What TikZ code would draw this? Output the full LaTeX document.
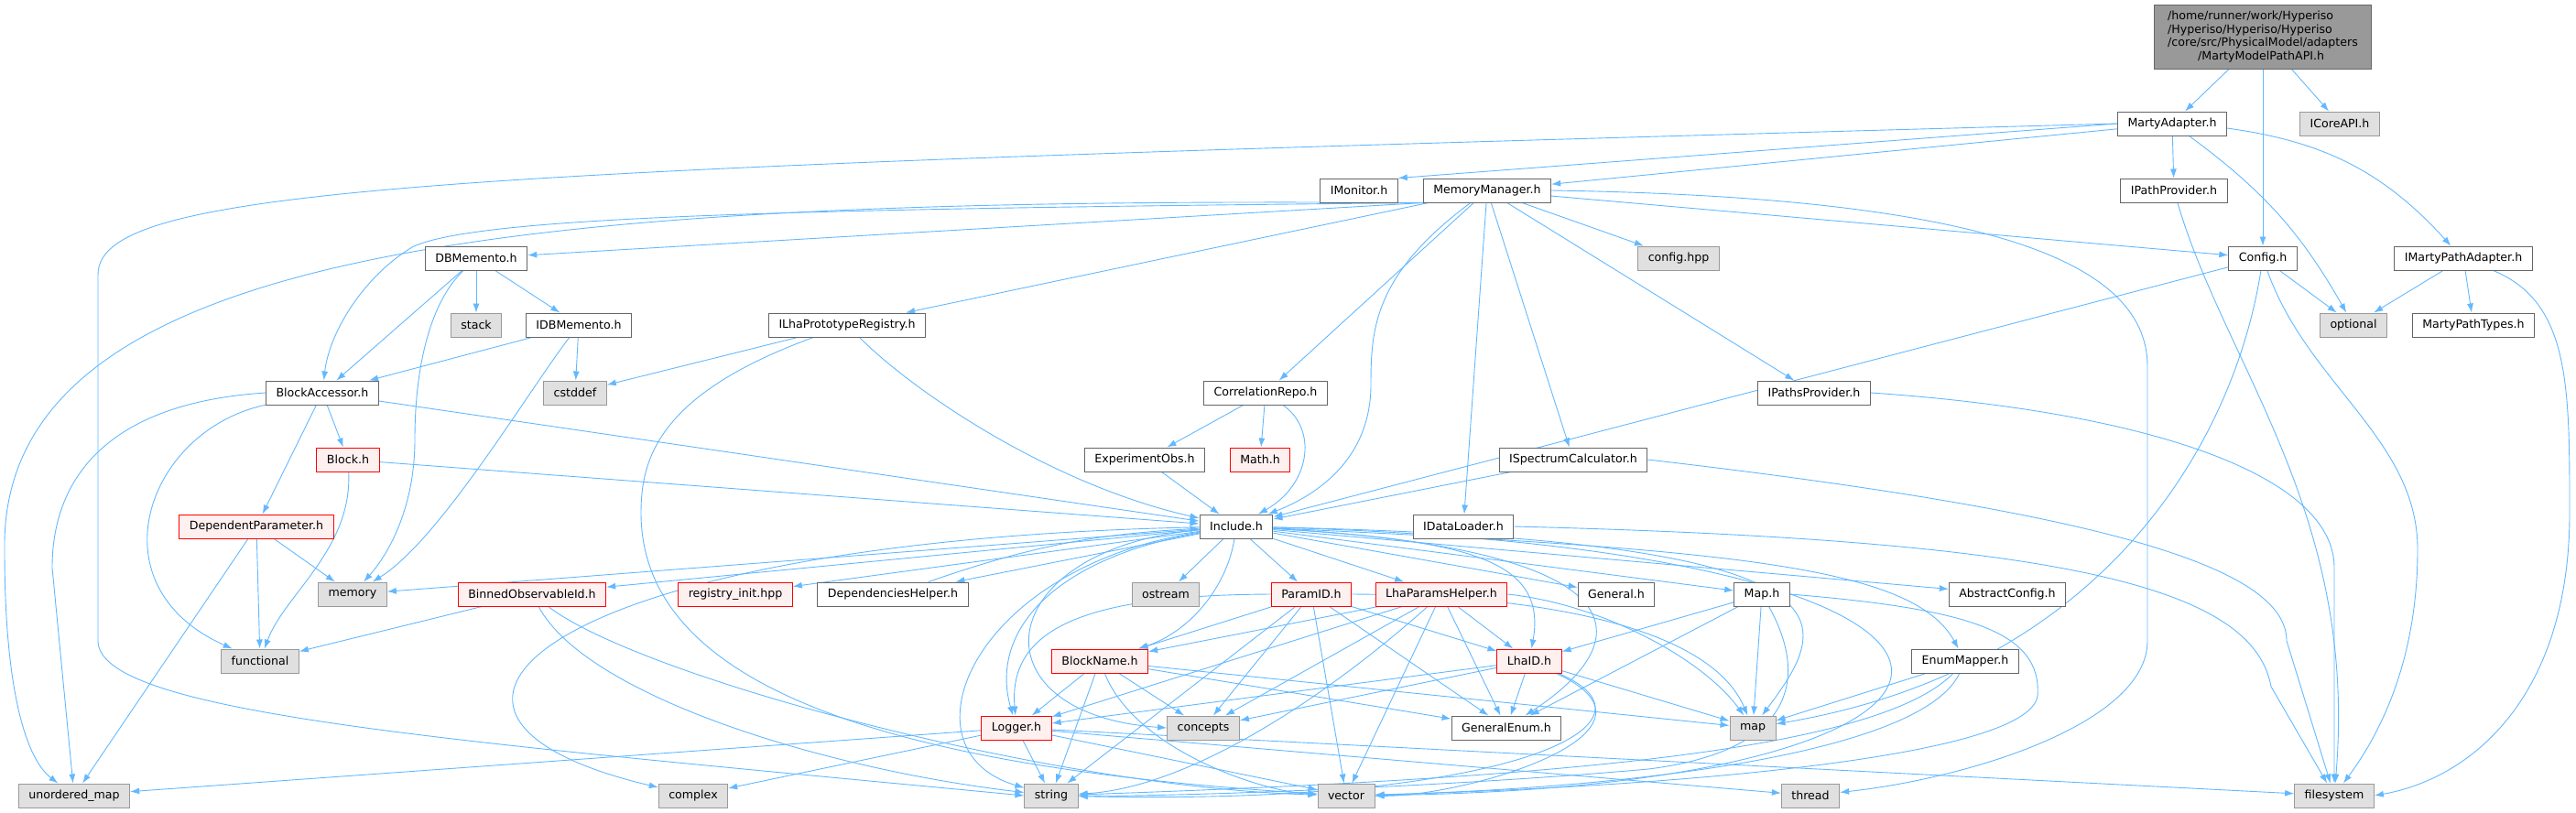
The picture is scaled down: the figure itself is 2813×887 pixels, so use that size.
\documentclass[tikz,border=0pt]{standalone}
\usepackage{fontspec}
\setmainfont{DejaVu Sans}
\usetikzlibrary{arrows.meta}
\definecolor{edgeblue}{HTML}{63B8FF}
\definecolor{boxgray}{HTML}{666666}
\definecolor{sysgray}{HTML}{999999}
\definecolor{sysfill}{HTML}{E0E0E0}
\definecolor{truncred}{HTML}{FF0000}
\definecolor{truncfill}{HTML}{FFF0F0}
\definecolor{rootfill}{HTML}{999999}
\pgfdeclarelayer{edges}
\pgfsetlayers{edges,main}

\begin{document}
\begin{tikzpicture}[x=1pt, y=1pt, font=\fontsize{12.6}{14.7}\selectfont,
    hdr/.style = {draw=boxgray, fill=white, line width=1pt, minimum height=26pt, inner xsep=11pt, inner ysep=0pt},
    sys/.style = {hdr, draw=sysgray, fill=sysfill},
    trunc/.style = {hdr, draw=truncred, fill=truncfill},
    top/.style = {hdr, fill=rootfill, align=left, minimum width=237pt, minimum height=70pt, inner ysep=3pt},
    dep/.style = {edgeblue, line width=0.9pt, -{Latex[length=10pt,width=7pt]}}]
    \useasboundingbox (0,0) rectangle (2813,-887);

    \node[top] (root) at (2471,-40) {/home/runner/work/Hyperiso\\/Hyperiso/Hyperiso/Hyperiso\\/core/src/PhysicalModel/adapters\\\hspace*{33pt}/MartyModelPathAPI.h};
    \node[hdr] (mad) at (2372,-135) {MartyAdapter.h};
    \node[sys] (icore) at (2555,-135) {ICoreAPI.h};
    \node[hdr] (imon) at (1484,-208) {IMonitor.h};
    \node[hdr] (mem) at (1624,-208) {MemoryManager.h};
    \node[hdr] (ipp) at (2374,-208) {IPathProvider.h};
    \node[hdr] (dbm) at (520,-282) {DBMemento.h};
    \node[sys] (cfghpp) at (1833,-282) {config.hpp};
    \node[hdr] (cfg) at (2471,-282) {Config.h};
    \node[hdr] (impa) at (2690,-282) {IMartyPathAdapter.h};
    \node[sys] (stack) at (520,-355) {stack};
    \node[hdr] (idbm) at (632,-355) {IDBMemento.h};
    \node[hdr] (ilha) at (925,-355) {ILhaPrototypeRegistry.h};
    \node[sys] (opt) at (2570,-355) {optional};
    \node[hdr] (mpt) at (2701,-355) {MartyPathTypes.h};
    \node[hdr] (bacc) at (352,-429) {BlockAccessor.h};
    \node[sys] (cstd) at (628,-429) {cstddef};
    \node[hdr] (corr) at (1382,-429) {CorrelationRepo.h};
    \node[hdr] (ipsp) at (1981,-429) {IPathsProvider.h};
    \node[trunc] (block) at (380,-502) {Block.h};
    \node[hdr] (expo) at (1250,-502) {ExperimentObs.h};
    \node[trunc] (math) at (1376,-502) {Math.h};
    \node[hdr] (ispec) at (1718,-502) {ISpectrumCalculator.h};
    \node[trunc] (dep) at (280,-575) {DependentParameter.h};
    \node[hdr] (inc) at (1350,-575) {Include.h};
    \node[hdr] (idl) at (1598,-575) {IDataLoader.h};
    \node[sys] (memory) at (385,-649) {memory};
    \node[trunc] (binned) at (581,-649) {BinnedObservableId.h};
    \node[trunc] (reg) at (803,-649) {registry\_init.hpp};
    \node[hdr] (dh) at (975,-649) {DependenciesHelper.h};
    \node[sys] (ostream) at (1273,-649) {ostream};
    \node[trunc] (pid) at (1432,-649) {ParamID.h};
    \node[trunc] (lph) at (1574,-649) {LhaParamsHelper.h};
    \node[hdr] (gen) at (1765,-649) {General.h};
    \node[hdr] (maph) at (1924,-649) {Map.h};
    \node[hdr] (absc) at (2192,-649) {AbstractConfig.h};
    \node[sys] (func) at (284,-722) {functional};
    \node[trunc] (bname) at (1201,-722) {BlockName.h};
    \node[trunc] (lhaid) at (1670,-722) {LhaID.h};
    \node[hdr] (enmap) at (2146,-722) {EnumMapper.h};
    \node[trunc] (logger) at (1110,-795) {Logger.h};
    \node[sys] (conc) at (1314,-795) {concepts};
    \node[hdr] (genum) at (1645,-795) {GeneralEnum.h};
    \node[sys] (map) at (1914,-795) {map};
    \node[sys] (umap) at (81,-869) {unordered\_map};
    \node[sys] (complex) at (757,-869) {complex};
    \node[sys] (string) at (1148,-869) {string};
    \node[sys] (vector) at (1470,-869) {vector};
    \node[sys] (thread) at (1977,-869) {thread};
    \node[sys] (fs) at (2549,-869) {filesystem};

    \begin{pgfonlayer}{edges}
    % top of the graph
    \path[dep] (root) edge (mad) edge (cfg) edge (icore);
    \path[dep] (mad) edge (mem) edge (ipp);
    \draw[dep] (mad.west) -- (imon.north east);
    \draw[dep] (mad) to[bend left=20] (impa);
    \draw[dep] (mad) to[bend left=12] (opt);
    \draw[dep] (mad.west) .. controls (500,-185) and (107,-200) .. (107,-300) -- (107,-700) .. controls (107,-780) and (500,-810) .. (string.west);

    \path[dep] (mem) edge (ilha) edge (idl) edge (ispec) edge (ipsp) edge (cfghpp) edge (cfg) edge (corr);
    \draw[dep] (mem.south west) -- (dbm);
    \draw[dep] (mem.south west) .. controls (900,-228) and (520,-235) .. (450,-270) .. controls (400,-300) and (360,-360) .. (bacc);
    \draw[dep] (mem.south west) .. controls (600,-215) and (0,-260) .. (5,-600) .. controls (5,-760) and (30,-830) .. (umap);
    \draw[dep] (mem) .. controls (1500,-300) and (1497,-360) .. (1497,-420) .. controls (1497,-500) and (1440,-540) .. (inc);
    \draw[dep] (mem.east) .. controls (2150,-215) and (2345,-280) .. (2345,-400) -- (2345,-700) .. controls (2345,-790) and (2150,-850) .. (thread);

    \path[dep] (dbm) edge (stack) edge (idbm) edge (bacc);
    \draw[dep] (dbm) .. controls (470,-330) and (453,-400) .. (453,-480) .. controls (453,-560) and (420,-610) .. (memory);
    \path[dep] (idbm) edge (bacc) edge (cstd);
    \draw[dep] (idbm) .. controls (575,-430) and (480,-590) .. (memory);
    \path[dep] (ilha) edge (cstd);
    \draw[dep] (ilha) .. controls (1000,-430) and (1150,-530) .. (inc);
    \draw[dep] (ilha) .. controls (720,-430) and (700,-500) .. (700,-560) .. controls (700,-760) and (1000,-840) .. (vector);

    \path[dep] (bacc) edge (block) edge (dep) edge (inc);
    \draw[dep] (bacc) .. controls (160,-470) and (100,-640) .. (func);
    \draw[dep] (bacc.west) .. controls (120,-440) and (57,-520) .. (57,-620) -- (umap);
    \path[dep] (block) edge (inc);
    \draw[dep] (block) .. controls (385,-600) and (310,-650) .. (func);
    \path[dep] (dep) edge (memory) edge (func) edge (umap);

    \path[dep] (corr) edge (expo) edge (math);
    \draw[dep] (corr) .. controls (1440,-470) and (1430,-530) .. (inc);
    \path[dep] (expo) edge (inc);
    \path[dep] (ispec) edge (inc);
    \path[dep] (cfg) edge (inc) edge (opt);
    \path[dep] (impa) edge (opt) edge (mpt);

    % filesystem and friends
    \draw[dep] (ipp) .. controls (2430,-400) and (2575,-560) .. (fs);
    \draw[dep] (ipsp.east) .. controls (2350,-450) and (2549,-520) .. (2549,-620) -- (fs);
    \draw[dep] (ispec.east) .. controls (2300,-560) and (2497,-620) .. (2497,-700) -- (fs);
    \draw[dep] (idl.east) .. controls (2250,-590) and (2460,-640) .. (2480,-750) -- (fs);
    \draw[dep] (cfg) .. controls (2520,-420) and (2640,-480) .. (2640,-600) .. controls (2640,-720) and (2600,-800) .. (fs);
    \draw[dep] (cfg) .. controls (2440,-480) and (2300,-730) .. (map);
    \draw[dep] (impa) .. controls (2806,-330) and (2806,-420) .. (2806,-560) .. controls (2806,-760) and (2700,-850) .. (fs.east);

    % Include.h
    \path[dep] (inc) edge (memory) edge (binned) edge (reg) edge (ostream) edge (pid) edge (lph) edge (gen) edge (maph) edge (absc);
    \draw[dep] (inc) -- (dh);
    \draw[dep] (dh) to[bend left=8] (inc);
    \draw[dep] (inc) .. controls (1900,-600) and (2090,-620) .. (enmap);
    \draw[dep] (inc) .. controls (1340,-640) and (1300,-690) .. (bname);
    \draw[dep] (inc) .. controls (1600,-590) and (1690,-610) .. (lhaid);
    \draw[dep] (inc) .. controls (1150,-610) and (1080,-690) .. (logger);
    \draw[dep] (inc) .. controls (1080,-600) and (1060,-780) .. (conc.west);
    \draw[dep] (inc) .. controls (1800,-600) and (1790,-700) .. (genum);
    \draw[dep] (inc) .. controls (2050,-590) and (2000,-680) .. (map);
    \draw[dep] (inc) .. controls (1060,-620) and (980,-820) .. (string);
    \draw[dep] (inc) .. controls (2290,-600) and (2250,-860) .. (vector);
    \draw[dep] (inc) .. controls (600,-590) and (380,-780) .. (complex);

    \path[dep] (binned) edge (func);
    \draw[dep] (binned) .. controls (640,-760) and (900,-840) .. (string);
    \draw[dep] (binned) .. controls (700,-740) and (1150,-860) .. (vector);

    \path[dep] (pid) edge (bname) edge (lhaid) edge (genum) edge (vector) edge (conc) edge (string);
    \draw[dep] (pid.east) .. controls (1700,-650) and (1870,-690) .. (map);
    \draw[dep] (pid.west) .. controls (1200,-650) and (1100,-680) .. (logger);

    \path[dep] (lph) edge (bname) edge (lhaid) edge (genum) edge (conc) edge (vector) edge (logger);
    \draw[dep] (lph) .. controls (1450,-760) and (1300,-860) .. (string);
    \draw[dep] (lph.east) .. controls (1750,-660) and (1860,-720) .. (map);

    \path[dep] (bname) edge (logger) edge (conc) edge (string) edge (genum) edge (map);
    \draw[dep] (bname) .. controls (1240,-820) and (1380,-865) .. (vector);

    \path[dep] (lhaid) edge (logger) edge (conc) edge (genum) edge (map);
    \draw[dep] (lhaid) .. controls (1830,-790) and (1650,-880) .. (string);
    \draw[dep] (lhaid) .. controls (1840,-800) and (1600,-870) .. (vector);

    \path[dep] (maph) edge (lhaid) edge (genum) edge (map);
    \draw[dep] (maph) .. controls (1975,-740) and (1960,-820) .. (1800,-840) .. controls (1600,-858) and (1300,-870) .. (string);
    \draw[dep] (maph.east) .. controls (2150,-665) and (2230,-690) .. (2225,-760) .. controls (2215,-830) and (1800,-860) .. (vector);

    \path[dep] (enmap) edge (map);
    \draw[dep] (enmap) .. controls (2050,-820) and (1700,-850) .. (string);
    \draw[dep] (enmap) .. controls (2100,-820) and (1800,-860) .. (vector);

    \path[dep] (logger) edge (string) edge (vector) edge (umap) edge (complex) edge (thread) edge (fs);
    \end{pgfonlayer}
\end{tikzpicture}
\end{document}
